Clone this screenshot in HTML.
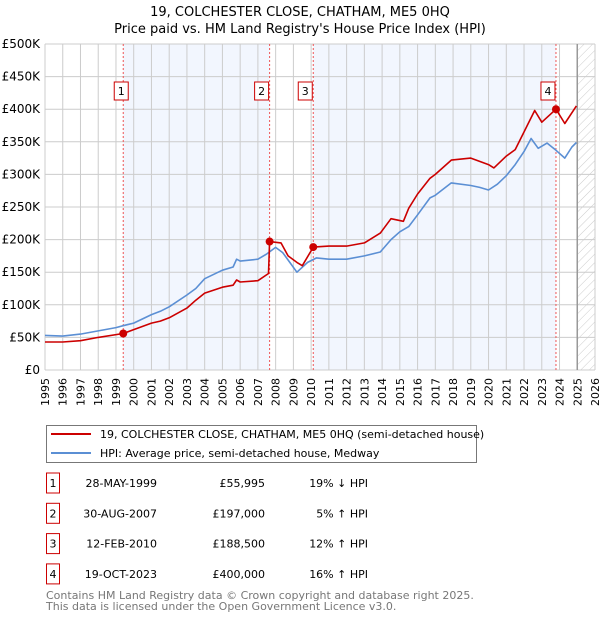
<!DOCTYPE html>
<html><head><meta charset="utf-8"><style>
body{margin:0;background:#fff;width:600px;height:620px;overflow:hidden;font-family:"DejaVu Sans","Liberation Sans",sans-serif;}
svg{display:block}
</style></head><body>
<svg id="chart" width="600" height="620" xmlns="http://www.w3.org/2000/svg">
<defs>
<pattern id="hatch" width="6" height="6" patternUnits="userSpaceOnUse" patternTransform="rotate(45)">
<line x1="0" y1="0" x2="0" y2="6" stroke="#ccc" stroke-width="1"/>
</pattern>
</defs>
<text x="300" y="16" text-anchor="middle" font-size="13">19, COLCHESTER CLOSE, CHATHAM, ME5 0HQ</text>
<text x="300" y="33" text-anchor="middle" font-size="13">Price paid vs. HM Land Registry's House Price Index (HPI)</text>
<g id="plot"></g>
<g>
<rect x="46.5" y="425.5" width="430" height="37" fill="#fff" stroke="#777"/>
<line x1="51" y1="434" x2="91" y2="434" stroke="#cc0000" stroke-width="2"/>
<text x="100" y="438" font-size="11">19, COLCHESTER CLOSE, CHATHAM, ME5 0HQ (semi-detached house)</text>
<line x1="51" y1="453" x2="91" y2="453" stroke="#5b8fd4" stroke-width="2"/>
<text x="100" y="457" font-size="11">HPI: Average price, semi-detached house, Medway</text>
</g>
<g id="table" font-size="11"></g>
<text x="46" y="599" font-size="11" fill="#777">Contains HM Land Registry data © Crown copyright and database right 2025.</text>
<text x="46" y="610" font-size="11" fill="#777">This data is licensed under the Open Government Licence v3.0.</text>
</svg>
<script>
const yearTicks=[1995,1996,1997,1998,1999,2000,2001,2002,2003,2004,2005,2006,2007,2008,2009,2010,2011,2012,2013,2014,2015,2016,2017,2018,2019,2020,2021,2022,2023,2024,2025,2026];
const priceTicks=[0,50,100,150,200,250,300,350,400,450,500];
const priceLabels=["£0","£50K","£100K","£150K","£200K","£250K","£300K","£350K","£400K","£450K","£500K"];
const hpiYears=[1995,1996,1997,1998,1999,1999.4,2000,2001,2001.5,2002,2003,2003.5,2004,2005,2005.6,2005.8,2006,2007,2007.5,2008,2008.4,2008.8,2009.2,2009.8,2010.3,2011,2012,2013,2013.9,2014.5,2015,2015.5,2016,2016.7,2017,2017.9,2019,2019.5,2020,2020.5,2021,2021.5,2022,2022.4,2022.8,2023.3,2023.8,2024.3,2024.7,2024.95];
const hpiValues=[53,52,55,60,65,68,72,85,90,97,115,125,140,153,158,170,167,170,178,188,180,165,150,165,172,170,170,175,181,200,212,220,238,264,268,287,283,280,276,285,298,315,335,355,340,348,337,325,342,349];
const saleYears=[1995,1996,1997,1998,1999.41,2000,2001,2001.5,2002,2003,2003.5,2004,2005,2005.6,2005.8,2006,2007,2007.6,2007.66,2008.3,2008.7,2009.2,2009.5,2010.12,2011,2012,2013,2013.9,2014.5,2015.2,2015.5,2016,2016.7,2017,2017.9,2019,2020,2020.3,2021,2021.5,2022,2022.6,2023,2023.8,2024.3,2024.95];
const saleValues=[43,43,45,50,56,62,72,75,80,95,107,118,127,130,138,135,137,148,197,195,175,165,160,188.5,190,190,195,210,232,228,248,270,294,300,322,325,315,310,328,338,365,398,380,400,378,405];
const markerYears=[1999.41,2007.66,2010.12,2023.8];
const markerValues=[55.995,197,188.5,400];
const markerLabels=["1","2","3","4"];
const dates=["28-MAY-1999","30-AUG-2007","12-FEB-2010","19-OCT-2023"];
const prices=["£55,995","£197,000","£188,500","£400,000"];
const hpiDiff=["19% ↓ HPI","5% ↑ HPI","12% ↑ HPI","16% ↑ HPI"];

const NS="http://www.w3.org/2000/svg";
const X0=45,X1=595,Y0=370,Y1=44;
const x=y=>X0+(y-1995)/(2026-1995)*(X1-X0);
const yv=v=>Y0-v/500*(Y0-Y1);
function mk(tag,attrs,parent){const e=document.createElementNS(NS,tag);for(const k in attrs)e.setAttribute(k,attrs[k]);parent.appendChild(e);return e;}
const plot=document.getElementById('plot');
for(const [a,b] of [[0,1],[2,3]]){
  const r=mk('rect',{x:x(markerYears[a]),y:Y1,width:x(markerYears[b])-x(markerYears[a]),height:Y0-Y1,fill:'#eef3fd',opacity:0.75},plot);
  
  
}
const h=mk('rect',{x:x(2025),y:Y1,width:X1-x(2025),height:Y0-Y1,fill:'url(#hatch)'},plot);


yearTicks.forEach(t=>{
  const l=mk('line',{x1:x(t),x2:x(t),y1:Y1,y2:Y0,stroke:'#ccc','stroke-width':1},plot);
  
  
  const tx=mk('text',{x:0,y:0,'font-size':11,'text-anchor':'end',transform:`translate(${x(t)+4},378) rotate(-90)`},plot);
  tx.textContent=t;
  
  
});
priceTicks.forEach((t,i)=>{
  const l=mk('line',{x1:X0,x2:X1,y1:yv(t),y2:yv(t),stroke:'#ccc','stroke-width':1},plot);
  
  
  const tx=mk('text',{x:40,y:yv(t)+4,'font-size':12,'text-anchor':'end'},plot);
  tx.textContent=priceLabels[i];
  
  
});
const dl=mk('line',{x1:x(2025),x2:x(2025),y1:Y1,y2:Y0,stroke:'#999','stroke-width':1.5},plot);


markerYears.forEach((m,i)=>{
  const l=mk('line',{x1:x(m),x2:x(m),y1:Y1,y2:Y0,stroke:'#e55','stroke-width':1,'stroke-dasharray':'2,2'},plot);
  
  
});
function path(xs,vs,col,name){
  const d=xs.map((t,i)=>(i?'L':'M')+x(t).toFixed(1)+','+yv(vs[i]).toFixed(1)).join('');
  const p=mk('path',{d:d,fill:'none',stroke:col,'stroke-width':1.6,'stroke-linejoin':'round'},plot);
  
  
}
path(hpiYears,hpiValues,'#5b8fd4','hpi-line');
path(saleYears,saleValues,'#cc0000','property-price-line');
markerYears.forEach((m,i)=>{
  const c=mk('circle',{cx:x(m),cy:yv(markerValues[i]),r:4,fill:'#cc0000'},plot);
  
  
  const bx=x(m)-(i==0?2:8);
  const r=mk('rect',{x:bx-7,y:82,width:14,height:18,fill:'#fff',stroke:'#cc0000'},plot);
  
  
  const t=mk('text',{x:bx,y:95,'font-size':11,'text-anchor':'middle'},plot);
  t.textContent=markerLabels[i];
  
  
});
const tb=document.getElementById('table');
markerLabels.forEach((lab,i)=>{
  const yy=483+i*30.3;
  const r=mk('rect',{x:46.5,y:yy-10,width:13,height:20,fill:'#fff',stroke:'#cc0000'},tb);
  
  
  const vals=[[lab,53,'middle'],[dates[i],157,'end'],[prices[i],265,'end'],[hpiDiff[i],368,'end']];
  vals.forEach(v=>{
    const t=mk('text',{x:v[1],y:yy+4,'text-anchor':v[2]},tb);
    t.textContent=v[0];
    
    
  });
});
</script>
</body></html>
